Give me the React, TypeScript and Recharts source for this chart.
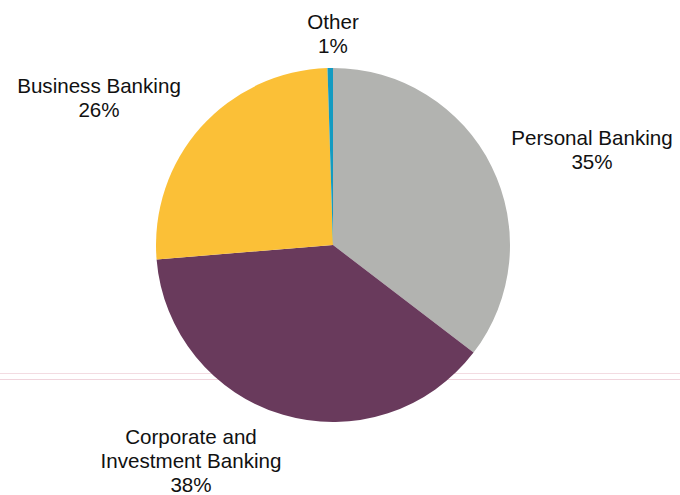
import { Cell, Pie, PieChart } from "recharts";

// segment shares (%), clockwise from 12 o'clock
const segments = ["Personal Banking", "Corporate and Investment Banking", "Business Banking", "Other"];
const shares = [35.4, 38.3, 25.8, 0.5];
const colors = ["#B2B3B0", "#693A5C", "#FBC037", "#139BC1"];

// label text lines (category name broken the way the reference shows it)
const labelLines = [["Personal Banking"], ["Corporate and", "Investment Banking"], ["Business Banking"], ["Other"]];

// label block centres, relative to the pie centre
const labelOffsets = [
  { dx: 259, dy: -96 },
  { dx: -142, dy: 215 },
  { dx: -234, dy: -148 },
  { dx: 0, dy: -212 },
];

const data = segments.map((name, i) => ({ name, value: shares[i] }));

const W = 680;
const H = 495;
const CX = 333;
const CY = 245;
const FONT = 20.6;
const LINE_H = 24;

function SliceLabel(props: { cx?: number; cy?: number; index?: number }) {
  const i = props.index ?? 0;
  const cx = Number(props.cx ?? CX);
  const cy = Number(props.cy ?? CY);
  const lines = [...labelLines[i], `${Math.round(shares[i])}%`];
  const off = labelOffsets[i];
  const x = cx + off.dx;
  const top = cy + off.dy - ((lines.length - 1) * LINE_H) / 2;
  return (
    <text
      x={x}
      y={top}
      textAnchor="middle"
      dominantBaseline="central"
      fill="#111"
      fontSize={FONT}
      fontFamily="'Liberation Sans', Arial, sans-serif"
    >
      {lines.map((ln, k) => (
        <tspan key={k} x={x} y={top + k * LINE_H}>
          {ln}
        </tspan>
      ))}
    </text>
  );
}

export default function App() {
  return (
    <div style={{ position: "absolute", left: 0, top: 0, width: W, height: H, background: "#fff", overflow: "hidden" }}>
      <div style={{ position: "absolute", left: 0, top: 373, width: W, height: 1, background: "#F3DCE2" }} />
      <div style={{ position: "absolute", left: 0, top: 379, width: W, height: 1, background: "#F0D4DC" }} />
      <div style={{ position: "absolute", left: 0, top: 0 }}>
        <PieChart width={W} height={H} margin={{ top: 0, right: 0, bottom: 0, left: 0 }}>
          <Pie
            data={data}
            dataKey="value"
            nameKey="name"
            cx={CX}
            cy={CY}
            outerRadius={177}
            startAngle={90}
            endAngle={-270}
            stroke="none"
            labelLine={false}
            label={(p: any) => <SliceLabel {...p} />}
            isAnimationActive={false}
          >
            {data.map((d, i) => (
              <Cell key={d.name} fill={colors[i]} />
            ))}
          </Pie>
        </PieChart>
      </div>
    </div>
  );
}
